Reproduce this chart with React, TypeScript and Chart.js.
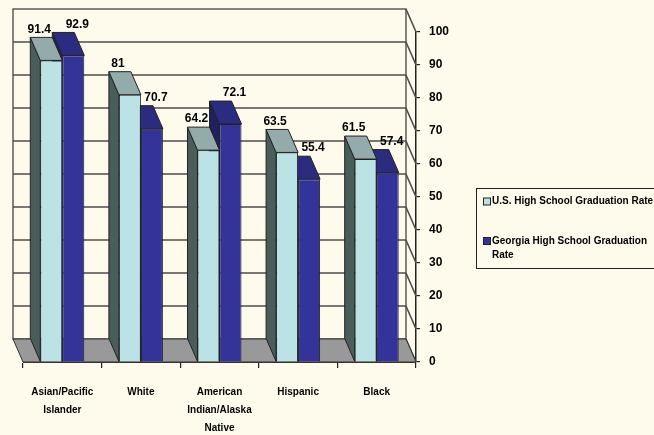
import { useEffect, useRef } from 'react';
import { Chart, registerables } from 'chart.js';

Chart.register(...registerables);

// ---- data ----
const categories: (string | string[])[] = [
  ['Asian/Pacific', 'Islander'],
  'White',
  ['American', 'Indian/Alaska', 'Native'],
  'Hispanic',
  'Black',
];
const usRates = [91.4, 81, 64.2, 63.5, 61.5];
const georgiaRates = [92.9, 70.7, 72.1, 55.4, 57.4];
const seriesNames = ['U.S. High School Graduation Rate', 'Georgia High School Graduation Rate'];
const legendLines = [['U.S. High School Graduation Rate'], ['Georgia High School Graduation', 'Rate']];
const yMin = 0;
const yMax = 100;
const yStep = 10;

// ---- style ----
const BG = '#FFFBEC';
const FONT = "'Liberation Sans', Arial, sans-serif";
const DX = -10;
const DY = -23;
const faceColors = [
  { front: '#BBE3E6', side: '#4B5D5B', top: '#93ABAB' },
  { front: '#333399', side: '#20205E', top: '#2B2B80' },
];
const labelShift = [-12, 4];

function poly(ctx: CanvasRenderingContext2D, pts: number[][], fill: string, stroke: string) {
  ctx.beginPath();
  ctx.moveTo(pts[0][0], pts[0][1]);
  for (let i = 1; i < pts.length; i++) ctx.lineTo(pts[i][0], pts[i][1]);
  ctx.closePath();
  ctx.fillStyle = fill;
  ctx.fill();
  ctx.strokeStyle = stroke;
  ctx.stroke();
}

const threeD = {
  id: 'threeD',
  beforeDraw(chart: any) {
    const { ctx, width, height } = chart;
    ctx.save();
    ctx.fillStyle = BG;
    ctx.fillRect(0, 0, width, height);
    ctx.restore();
  },
  beforeDatasetsDraw(chart: any) {
    const { ctx, chartArea } = chart;
    const { left, right, top, bottom } = chartArea;
    const ys = chart.scales.y;
    ctx.save();
    ctx.lineWidth = 1;
    // back wall
    ctx.fillStyle = BG;
    ctx.fillRect(left + DX, top + DY, right - left, bottom - top);
    ctx.strokeStyle = '#333';
    ctx.lineWidth = 1.2;
    ctx.strokeRect(left + DX, top + DY, right - left, bottom - top);
    // gridlines
    ctx.strokeStyle = '#4d4d4d';
    ctx.lineWidth = 1.6;
    for (let v = yMin; v <= yMax; v += yStep) {
      const yy = ys.getPixelForValue(v);
      if (v > yMin && v < yMax) {
        ctx.beginPath();
        ctx.moveTo(left + DX, yy + DY);
        ctx.lineTo(right + DX, yy + DY);
        ctx.stroke();
      }
      ctx.beginPath();
      ctx.moveTo(right + DX, yy + DY);
      ctx.lineTo(right, yy);
      ctx.stroke();
    }
    // floor
    ctx.lineWidth = 1;
    poly(ctx, [[left + DX, bottom + DY], [right + DX, bottom + DY], [right, bottom], [left, bottom]], '#999999', '#333');
    // bar sides and tops (far series first)
    for (let d = chart.data.datasets.length - 1; d >= 0; d--) {
      const meta = chart.getDatasetMeta(d);
      const c = faceColors[d];
      meta.data.forEach((bar: any) => {
        const { x, y, base, width } = bar.getProps(['x', 'y', 'base', 'width'], true);
        const l = x - width / 2;
        const r = x + width / 2;
        poly(ctx, [[l, y], [l + DX, y + DY], [l + DX, base + DY], [l, base]], c.side, '#222');
        poly(ctx, [[l, y], [r, y], [r + DX, y + DY], [l + DX, y + DY]], c.top, '#222');
      });
    }
    ctx.restore();
  },
  afterDatasetsDraw(chart: any) {
    const { ctx } = chart;
    ctx.save();
    ctx.font = `bold 12px ${FONT}`;
    ctx.fillStyle = '#000';
    ctx.textAlign = 'center';
    ctx.textBaseline = 'middle';
    chart.data.datasets.forEach((ds: any, d: number) => {
      const meta = chart.getDatasetMeta(d);
      meta.data.forEach((bar: any, i: number) => {
        const { x, y } = bar.getProps(['x', 'y'], true);
        ctx.fillText(String(ds.data[i]), x + labelShift[d], y + DY - 8);
      });
    });
    ctx.restore();
  },
  afterDraw(chart: any) {
    const { ctx, chartArea } = chart;
    const bx = chartArea.right + 60;
    const by = chartArea.top + 156;
    ctx.save();
    ctx.strokeStyle = '#222';
    ctx.lineWidth = 1;
    ctx.strokeRect(bx + 0.5, by + 0.5, 240, 80);
    ctx.font = `bold 10px ${FONT}`;
    ctx.textAlign = 'left';
    ctx.textBaseline = 'middle';
    const rows = [by + 13.5, by + 53];
    chart.data.datasets.forEach((ds: any, d: number) => {
      const ry = rows[d];
      ctx.fillStyle = faceColors[d].front;
      ctx.fillRect(bx + 7.5, ry - 3.5, 7, 7);
      ctx.strokeStyle = '#222';
      ctx.strokeRect(bx + 7.5, ry - 3.5, 7, 7);
      ctx.fillStyle = '#000';
      legendLines[d].forEach((t, k) => ctx.fillText(t, bx + 16, ry + k * 14));
    });
    ctx.restore();
  },
};

export default function App() {
  const ref = useRef<HTMLCanvasElement>(null);
  useEffect(() => {
    if (!ref.current) return;
    const chart = new Chart(ref.current, {
      type: 'bar',
      data: {
        labels: categories as any,
        datasets: [
          { label: seriesNames[0], data: usRates, backgroundColor: faceColors[0].front, borderColor: '#222', borderWidth: 1 },
          { label: seriesNames[1], data: georgiaRates, backgroundColor: faceColors[1].front, borderColor: '#222', borderWidth: 1 },
        ],
      },
      options: {
        responsive: false,
        animation: false,
        layout: { padding: { left: 23, top: 32, right: 0, bottom: 0 } },
        plugins: { legend: { display: false }, tooltip: { enabled: false } },
        datasets: { bar: { categoryPercentage: 0.56, barPercentage: 1 } },
        scales: {
          x: {
            grid: { drawOnChartArea: false, offset: true, tickLength: 6, color: '#222', lineWidth: 1.2 },
            border: { display: true, color: '#333', width: 1 },
            ticks: {
              font: { family: FONT, weight: 'bold', size: 10, lineHeight: 1.8 },
              color: '#000',
              padding: 15,
              maxRotation: 0,
              autoSkip: false,
            },
            afterFit(scale: any) {
              scale.height = 73;
            },
          },
          y: {
            position: 'right',
            min: yMin,
            max: yMax,
            grid: { drawOnChartArea: false, tickLength: 4, color: '#222', lineWidth: 1.2 },
            border: { display: true, color: '#222', width: 1.5 },
            ticks: {
              stepSize: yStep,
              font: { family: FONT, weight: 'bold', size: 12 },
              color: '#000',
              padding: 9,
            },
            afterFit(scale: any) {
              scale.width = 238;
            },
          },
        },
      },
      plugins: [threeD],
    });
    return () => chart.destroy();
  }, []);
  return (
    <div style={{ position: 'absolute', left: 0, top: 0, width: 654, height: 435, background: BG, overflow: 'hidden' }}>
      <canvas ref={ref} width={654} height={435} style={{ display: 'block' }} />
    </div>
  );
}
